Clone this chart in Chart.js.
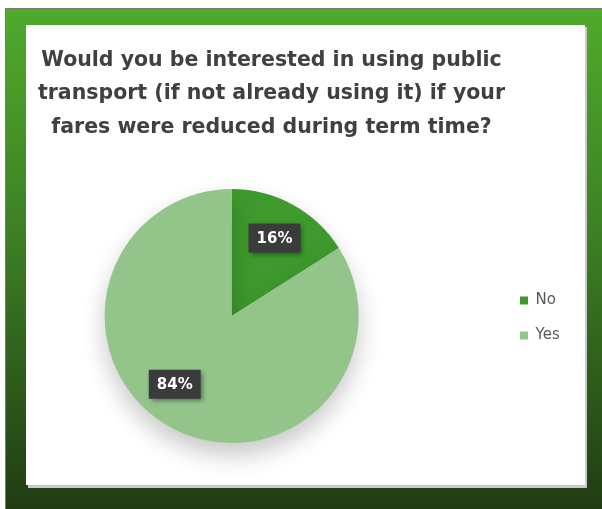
<!DOCTYPE html>
<html>
<head>
<meta charset="utf-8">
<script src="https://cdn.jsdelivr.net/npm/chart.js@4"></script>
<style>
  html, body { margin: 0; padding: 0; background: #ffffff; }
  #wrap { width: 602px; height: 509px; position: relative; }
  canvas { display: block; }
</style>
</head>
<body>
<div id="wrap"><canvas id="c" width="602" height="509"></canvas></div>
<script>
// ---- data ----
const categories = ['No', 'Yes'];
const values = [16, 84];
const sliceColors = ['#3e9a2c', '#93c58b'];
const titleLines = [
  'Would you be interested in using public',
  'transport (if not already using it) if your',
  'fares were reduced during term time?'
];

const FAMILY = '"DejaVu Sans", sans-serif';

// ---- background / frame plugin ----
const framePlugin = {
  id: 'frame',
  beforeDraw(chart) {
    const ctx = chart.ctx;
    const W = chart.width, H = chart.height;
    ctx.save();
    ctx.fillStyle = '#ffffff';
    ctx.fillRect(0, 0, W, H);
    ctx.fillStyle = '#7a7a7a';
    ctx.fillRect(5, 8, W - 5, H - 8);
    const g = ctx.createLinearGradient(0, 9, 0, H);
    g.addColorStop(0, '#50aa2b');
    g.addColorStop(0.45, '#3c8024');
    g.addColorStop(1, '#213c13');
    ctx.fillStyle = g;
    ctx.fillRect(6, 9, W - 6, H - 9);
    ctx.fillStyle = '#c9c9c9';
    ctx.fillRect(28, 27, 559, 461);
    ctx.fillStyle = '#ffffff';
    ctx.fillRect(26, 25, 559, 460);
    ctx.restore();
  }
};

// ---- pie shadow plugin ----
const shadowPlugin = {
  id: 'pieShadow',
  beforeDatasetsDraw(chart) {
    const ctx = chart.ctx;
    ctx.save();
    ctx.shadowColor = 'rgba(0,0,0,0.22)';
    ctx.shadowBlur = 24;
    ctx.shadowOffsetX = 0;
    ctx.shadowOffsetY = 12;
  },
  afterDatasetsDraw(chart) {
    chart.ctx.restore();
  }
};

// ---- percentage label plugin ----
const labelPlugin = {
  id: 'pctLabels',
  afterDatasetsDraw(chart, args, opts) {
    const ctx = chart.ctx;
    const meta = chart.getDatasetMeta(0);
    const data = chart.data.datasets[0].data;
    const total = data.reduce((a, b) => a + b, 0);
    ctx.save();
    ctx.font = 'bold 15px ' + FAMILY;
    ctx.textAlign = 'center';
    ctx.textBaseline = 'middle';
    meta.data.forEach((arc, i) => {
      const p = arc.getProps(['x', 'y', 'startAngle', 'endAngle', 'outerRadius'], true);
      const mid = (p.startAngle + p.endAngle) / 2 + (opts.angleShift[i] || 0) * Math.PI / 180;
      const r = p.outerRadius * opts.radiusFraction;
      const cx = p.x + Math.cos(mid) * r;
      const cy = p.y + Math.sin(mid) * r;
      const text = Math.round(data[i] / total * 100) + '%';
      const tw = ctx.measureText(text).width;
      const bw = tw + 16, bh = 29;
      ctx.save();
      ctx.shadowColor = 'rgba(0,0,0,0.45)';
      ctx.shadowBlur = 5;
      ctx.shadowOffsetX = 2;
      ctx.shadowOffsetY = 2;
      ctx.fillStyle = '#3b3b3d';
      ctx.fillRect(cx - bw / 2, cy - bh / 2, bw, bh);
      ctx.restore();
      ctx.fillStyle = '#ffffff';
      ctx.fillText(text, cx, cy + 1);
    });
    ctx.restore();
  }
};

// ---- box placement plugin (legend column + title span) ----
const boxPlace = {
  id: 'boxPlace',
  afterLayout(chart, args, opts) {
    const lg = chart.legend;
    if (lg) {
      const dx = opts.legendLeft - lg.left;
      lg.left += dx;
      lg.right += dx;
      lg.top += opts.legendDown;
      lg.bottom += opts.legendDown;
    }
    const tb = chart.titleBlock;
    if (tb) {
      tb.left = opts.titleLeft;
      tb.right = opts.titleRight;
      tb.width = tb.right - tb.left;
    }
  }
};

new Chart(document.getElementById('c'), {
  type: 'pie',
  data: {
    labels: categories,
    datasets: [{
      data: values,
      backgroundColor: sliceColors,
      borderWidth: 0
    }]
  },
  options: {
    responsive: false,
    devicePixelRatio: 1,
    animation: false,
    layout: { padding: { left: 104, right: 173, top: 30, bottom: 66 } },
    plugins: {
      title: {
        display: true,
        text: titleLines,
        color: '#404040',
        font: { family: FAMILY, size: 20.5, weight: 'bold', lineHeight: 1.625 },
        padding: { top: 14, bottom: 45 }
      },
      legend: {
        display: true,
        position: 'right',
        fullSize: false,
        labels: {
          boxWidth: 8,
          boxHeight: 8,
          padding: 20,
          color: '#595959',
          font: { family: FAMILY, size: 15, lineHeight: 1.15 }
        }
      },
      tooltip: { enabled: false },
      boxPlace: { legendLeft: 500, legendDown: 2, titleLeft: 30, titleRight: 513 },
      pctLabels: { radiusFraction: 0.7, angleShift: [0, 11] }
    }
  },
  plugins: [framePlugin, shadowPlugin, labelPlugin, boxPlace]
});
</script>
</body>
</html>
